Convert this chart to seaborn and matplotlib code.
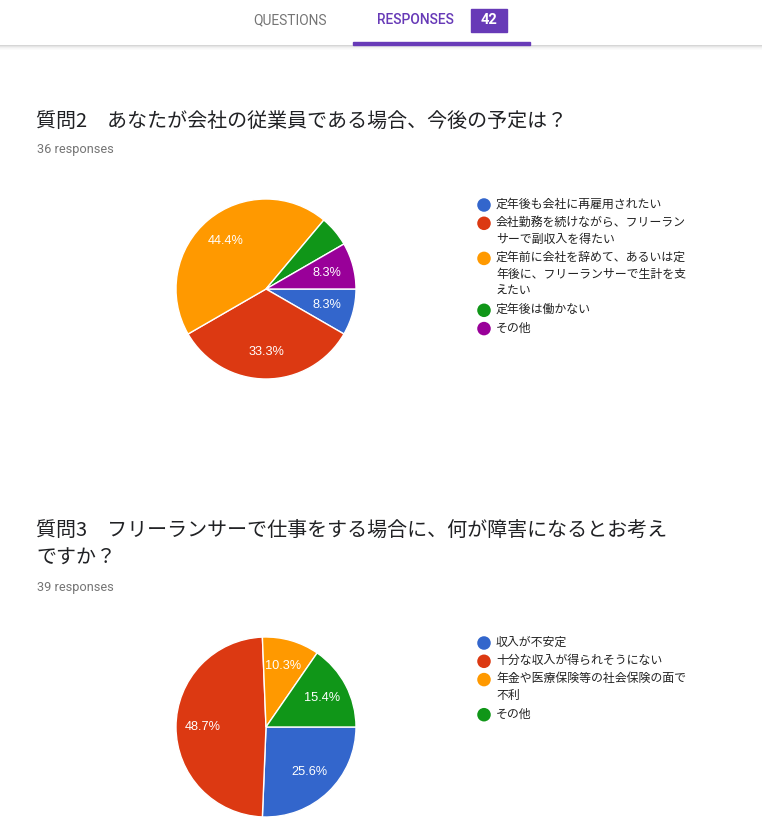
import matplotlib
matplotlib.use("Agg")
import matplotlib.pyplot as plt
import seaborn as sns

# ---- data ----
q2_title = "質問2　あなたが会社の従業員である場合、今後の予定は？"
q2_total = 36
q2_labels = [
    "定年後も会社に再雇用されたい",
    "会社勤務を続けながら、フリーラン\nサーで副収入を得たい",
    "定年前に会社を辞めて、あるいは定\n年後に、フリーランサーで生計を支\nえたい",
    "定年後は働かない",
    "その他",
]
q2_counts = [3, 12, 16, 2, 3]

q3_title = "質問3　フリーランサーで仕事をする場合に、何が障害になるとお考え\nですか？"
q3_total = 39
q3_labels = [
    "収入が不安定",
    "十分な収入が得られそうにない",
    "年金や医療保険等の社会保険の面で\n不利",
    "その他",
]
q3_counts = [10, 19, 4, 6]

tab_names = ["QUESTIONS", "RESPONSES"]
response_badge = "42"

sns.set_theme(style="white")
plt.rcParams['font.family'] = ['Noto Sans CJK JP', 'DejaVu Sans']

palette = sns.color_palette(["#3366cc", "#dc3912", "#ff9900", "#109618", "#990099"])
PURPLE = "#673ab7"

W, H = 762, 836
fig = plt.figure(figsize=(W / 100, H / 100), dpi=100)
fig.patch.set_facecolor("white")

# overlay axes in pixel coordinates for page text
bg = fig.add_axes([0, 0, 1, 1])
bg.set_xlim(0, W)
bg.set_ylim(H, 0)
bg.axis("off")

# ---- header tabs ----
bg.text(290.5, 20, tab_names[0], ha="center", va="center", fontsize=9.9,
        color="#757575", family=["Roboto", "DejaVu Sans"])
bg.text(415.5, 20, tab_names[1], ha="center", va="center", fontsize=9.9,
        color=PURPLE, family=["Roboto", "DejaVu Sans"], fontweight="medium")
bg.add_patch(plt.Rectangle((471, 9), 36, 23, color=PURPLE, zorder=2))
bg.text(489, 20.5, response_badge, ha="center", va="center", fontsize=10.5,
        color="white", family=["Roboto", "DejaVu Sans"], fontweight="bold", zorder=3)
bg.add_patch(plt.Rectangle((353, 42), 177, 3, color=PURPLE, zorder=3))
# shadow under the header
for i, a in enumerate([0.16, 0.10, 0.06, 0.03, 0.015]):
    bg.add_patch(plt.Rectangle((0, 45 + i), W, 1, color="black", alpha=a, lw=0))


def draw_question(title, title_y, total, resp_y):
    bg.text(36, title_y, title, ha="left", va="top", fontsize=14.4,
            color="#202124", linespacing=1.4)
    bg.text(37, resp_y, f"{total} responses", ha="left", va="center",
            fontsize=9.2, color="#757575", family=["Roboto", "DejaVu Sans"])


def draw_pie(counts, cx, cy, r):
    size = 2 * r * 1.25
    ax = fig.add_axes([(cx - size / 2) / W, 1 - (cy + size / 2) / H, size / W, size / H])
    ax.pie(
        counts,
        colors=palette[:len(counts)],
        startangle=0,
        counterclock=False,
        autopct=lambda p: f"{p:.1f}%" if p > 6 else "",
        pctdistance=0.7,
        wedgeprops=dict(edgecolor="white", linewidth=1),
        textprops=dict(color="white", fontsize=9.2, family=["Liberation Sans", "DejaVu Sans"]),
    )
    return ax


def draw_legend(labels, x, y0):
    y = y0
    for i, lab in enumerate(labels):
        bg.scatter([x], [y], s=95, color=palette[i], edgecolor="none", zorder=3)
        bg.text(x + 12, y - 7.2, lab, ha="left", va="top", fontsize=8.6,
                color="#222222", linespacing=1.4)
        y += 16.8 * (lab.count("\n") + 1) + 1.5


draw_question(q2_title, 111.5, q2_total, 150)
draw_pie(q2_counts, 266, 289, 90)
draw_legend(q2_labels, 484, 205)

draw_question(q3_title, 520, q3_total, 588)
draw_pie(q3_counts, 266, 727, 90)
draw_legend(q3_labels, 484, 643)

fig.savefig("out.png", dpi=100, facecolor="white")
